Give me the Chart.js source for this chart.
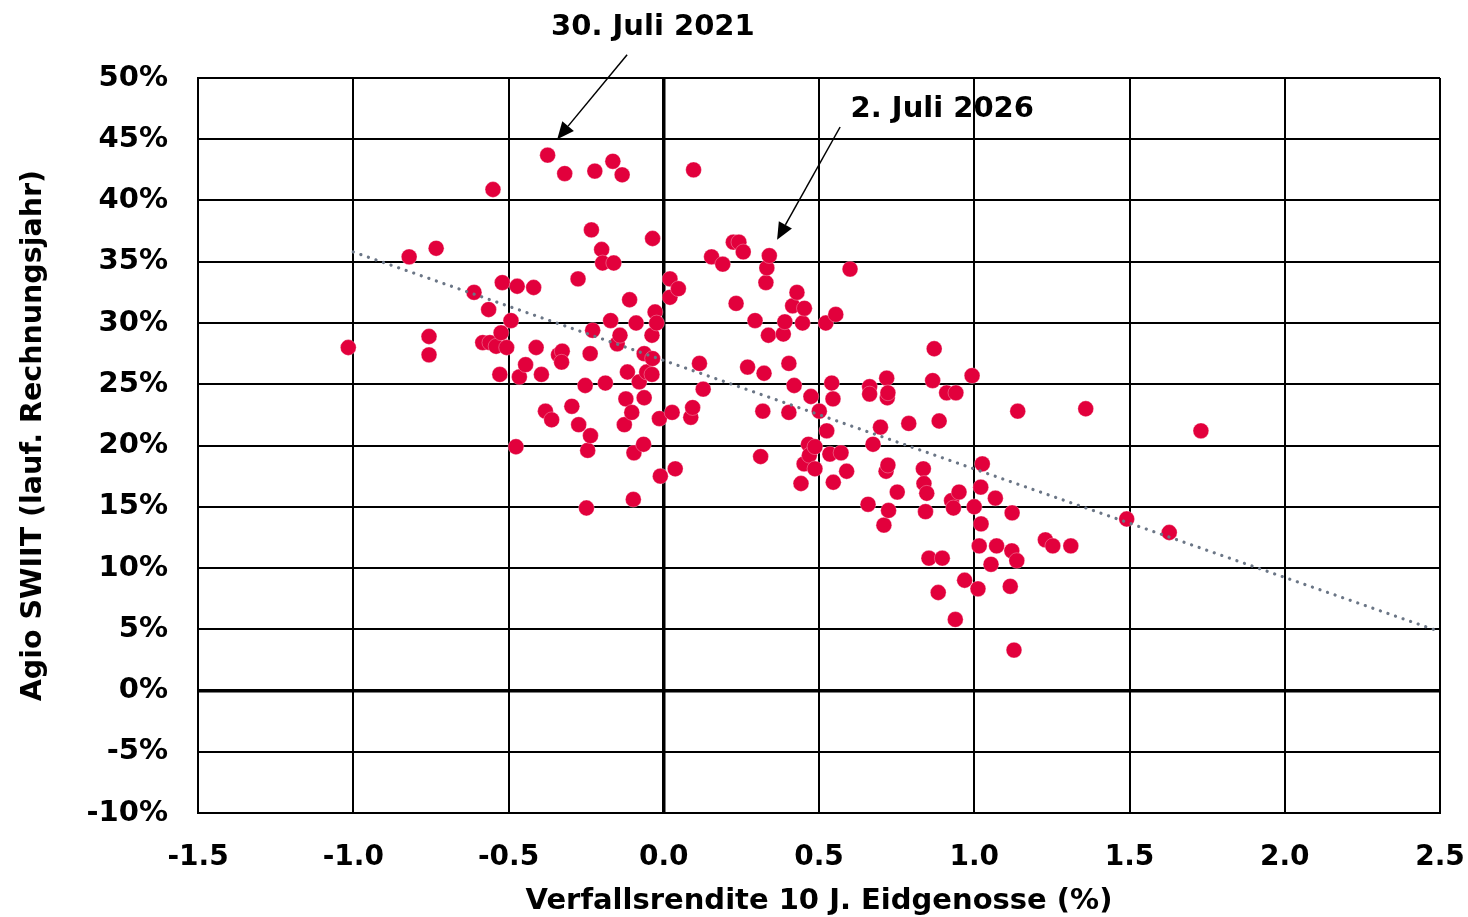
<!DOCTYPE html>
<html>
<head>
<meta charset="utf-8">
<script src="https://cdn.jsdelivr.net/npm/chart.js@4.4.1/dist/chart.umd.min.js"></script>
<style>
  body { margin: 0; background: #fff; }
  #wrap { width: 1468px; height: 917px; position: relative; }
</style>
</head>
<body>
<div id="wrap"><canvas id="agioChart"></canvas></div>
<script>
// Verfallsrendite 10 J. Eidgenosse (%)
const yields = [
    -1.016, -0.820, -0.756, -0.756, -0.733, -0.611, -0.583, -0.564, -0.550, -0.560,
    -0.540, -0.524, -0.520, -0.528, -0.506, -0.492, -0.472, -0.476, -0.465, -0.445,
    -0.419, -0.411, -0.394, -0.381, -0.374, -0.361, -0.339, -0.327, -0.329, -0.319,
    -0.296, -0.276, -0.274, -0.253, -0.249, -0.245, -0.237, -0.236, -0.233, -0.229,
    -0.222, -0.200, -0.197, -0.188, -0.171, -0.164, -0.161, -0.150, -0.141, -0.134,
    -0.127, -0.122, -0.117, -0.110, -0.103, -0.098, -0.096, -0.089, -0.079, -0.065,
    -0.063, -0.063, -0.055, -0.038, -0.038, -0.036, -0.036, -0.028, -0.023, -0.014,
    -0.011, 0.020, 0.020, 0.027, 0.047, 0.037, 0.087, 0.093, 0.096, 0.115,
    0.127, 0.154, 0.190, 0.224, 0.242, 0.233, 0.256, 0.270, 0.294, 0.312,
    0.319, 0.323, 0.329, 0.332, 0.340, 0.337, 0.385, 0.390, 0.403, 0.403,
    0.415, 0.420, 0.429, 0.442, 0.447, 0.452, 0.453, 0.466, 0.469, 0.474,
    0.487, 0.487, 0.501, 0.522, 0.525, 0.535, 0.541, 0.545, 0.546, 0.554,
    0.571, 0.589, 0.600, 0.658, 0.663, 0.663, 0.674, 0.698, 0.709, 0.716,
    0.718, 0.720, 0.722, 0.722, 0.724, 0.752, 0.789, 0.836, 0.838, 0.843,
    0.847, 0.854, 0.866, 0.871, 0.884, 0.887, 0.897, 0.911, 0.927, 0.933,
    0.939, 0.941, 0.951, 0.969, 0.993, 1.000, 1.012, 1.016, 1.021, 1.022,
    1.026, 1.054, 1.068, 1.072, 1.116, 1.121, 1.122, 1.128, 1.137, 1.140,
    1.229, 1.253, 1.311, 1.359, 1.491, 1.628, 1.730
];

// Agio SWIIT (lauf. Rechnungsjahr), in %
const agio = [
    28.0, 35.4, 28.9, 27.4, 36.1, 32.5, 28.4, 31.1, 40.9, 28.4,
    28.1, 29.2, 33.3, 25.8, 28.0, 30.2, 33.0, 19.9, 25.6, 26.6,
    32.9, 28.0, 25.8, 22.8, 43.7, 22.1, 27.4, 27.7, 26.8, 42.2,
    23.2, 33.6, 21.7, 24.9, 14.9, 19.6, 27.5, 20.8, 37.6, 29.4,
    42.4, 36.0, 34.9, 25.1, 30.2, 43.2, 34.9, 28.3, 29.0, 42.1,
    21.7, 23.8, 26.0, 31.9, 22.7, 15.6, 19.4, 30.0, 25.2, 20.1,
    27.5, 23.9, 26.0, 29.0, 25.8, 36.9, 27.1, 30.9, 30.0, 22.2,
    17.5, 33.6, 32.1, 22.7, 32.8, 18.1, 22.3, 23.1, 42.5, 26.7,
    24.6, 35.4, 34.8, 36.6, 36.6, 31.6, 35.8, 26.4, 30.2, 19.1,
    22.8, 25.9, 33.3, 34.5, 35.5, 29.0, 29.1, 30.1, 26.7, 22.7,
    31.4, 24.9, 32.5, 16.9, 30.0, 18.5, 31.2, 20.1, 19.2, 24.0,
    19.9, 18.1, 22.8, 30.0, 21.2, 19.3, 25.1, 23.8, 17.0, 30.7,
    19.4, 17.9, 34.4, 15.2, 24.8, 24.2, 20.1, 21.5, 13.5, 17.9,
    25.5, 23.9, 24.3, 18.4, 14.7, 16.2, 21.8, 18.1, 16.9, 14.6,
    16.1, 10.8, 25.3, 27.9, 8.0, 22.0, 10.8, 24.3, 15.5, 14.9,
    5.8, 24.3, 16.2, 9.0, 25.7, 15.0, 8.3, 11.8, 16.6, 13.6,
    18.5, 10.3, 15.7, 11.8, 8.5, 11.4, 14.5, 3.3, 10.6, 22.8,
    12.3, 11.8, 11.8, 23.0, 14.0, 12.9, 21.2
];

// Trendlinie (Endpunkte)
const trendX = [-1.0, 2.5];
const trendY = [35.8, 4.8];

// Beschriftungen mit Pfeil: Text, Textposition, Pfeilanfang, Pfeilspitze
const noteLabels = ['30. Juli 2021', '2. Juli 2026'];
const noteTextPos = [[-0.035, 54.1], [0.897, 47.4]];
const noteArrowFrom = [[-0.118, 51.9], [0.568, 46.0]];
const noteArrowTo = [[-0.343, 45.0], [0.365, 36.8]];

const FONT = "'DejaVu Sans', sans-serif";

const notePlugin = {
    id: 'notes',
    afterDraw(chart) {
        const { ctx, scales: { x, y } } = chart;
        ctx.save();
        noteLabels.forEach((label, i) => {
            ctx.fillStyle = '#000';
            ctx.font = "bold 29px " + FONT;
            ctx.textAlign = 'center';
            ctx.textBaseline = 'middle';
            ctx.fillText(label, x.getPixelForValue(noteTextPos[i][0]), y.getPixelForValue(noteTextPos[i][1]));

            const x0 = x.getPixelForValue(noteArrowFrom[i][0]);
            const y0 = y.getPixelForValue(noteArrowFrom[i][1]);
            const x1 = x.getPixelForValue(noteArrowTo[i][0]);
            const y1 = y.getPixelForValue(noteArrowTo[i][1]);
            const ang = Math.atan2(y1 - y0, x1 - x0);
            const headLen = 17, headW = 7.5;
            const bx = x1 - headLen * Math.cos(ang);
            const by = y1 - headLen * Math.sin(ang);
            ctx.strokeStyle = '#000';
            ctx.lineWidth = 1.5;
            ctx.beginPath();
            ctx.moveTo(x0, y0);
            ctx.lineTo(bx, by);
            ctx.stroke();
            ctx.beginPath();
            ctx.moveTo(x1, y1);
            ctx.lineTo(bx + headW * Math.sin(ang), by - headW * Math.cos(ang));
            ctx.lineTo(bx - headW * Math.sin(ang), by + headW * Math.cos(ang));
            ctx.closePath();
            ctx.fill();
        });
        ctx.restore();
    }
};

const gridWidth = (c) => (c.tick && c.tick.value === 0 ? 3.5 : 2);

new Chart(document.getElementById('agioChart'), {
    type: 'scatter',
    data: {
        datasets: [
            {
                label: 'Agio',
                data: yields.map((v, i) => ({ x: v, y: agio[i] })),
                backgroundColor: '#e2003c',
                borderColor: 'rgba(255,255,255,0.5)',
                borderWidth: 0.6,
                pointRadius: 7.9,
                pointHoverRadius: 7.9,
                order: 2
            },
            {
                label: 'Trend',
                type: 'line',
                data: trendX.map((v, i) => ({ x: v, y: trendY[i] })),
                borderColor: '#6b7686',
                borderWidth: 3.2,
                borderDash: [0.1, 7.9],
                borderCapStyle: 'round',
                pointRadius: 0,
                fill: false,
                order: 1
            }
        ]
    },
    options: {
        responsive: true,
        maintainAspectRatio: false,
        animation: false,
        layout: { padding: { top: 78, right: 0, left: 0, bottom: 0 } },
        plugins: {
            legend: { display: false },
            tooltip: { enabled: false }
        },
        scales: {
            x: {
                type: 'linear',
                min: -1.5,
                max: 2.5,
                afterFit: (scale) => {
                    scale.height = 104;
                    scale.paddingRight = 28;
                    scale.paddingLeft = 0;
                },
                ticks: {
                    stepSize: 0.5,
                    color: '#000',
                    padding: 28,
                    font: { family: FONT, size: 28, weight: 'bold' },
                    callback: (v) => v.toFixed(1)
                },
                grid: { color: '#000', lineWidth: gridWidth, drawTicks: false },
                border: { display: true, color: '#000', width: 2 },
                title: {
                    display: true,
                    text: 'Verfallsrendite 10 J. Eidgenosse (%)',
                    color: '#000',
                    font: { family: FONT, size: 29, weight: 'bold', lineHeight: 1.2 },
                    padding: { top: 0, bottom: -2 }
                }
            },
            y: {
                type: 'linear',
                min: -10,
                max: 50,
                afterFit: (scale) => { scale.width = 198; },
                ticks: {
                    stepSize: 5,
                    color: '#000',
                    padding: 30,
                    font: { family: FONT, size: 29, weight: 'bold' },
                    callback: (v) => v + '%'
                },
                grid: { color: '#000', lineWidth: gridWidth, drawTicks: false },
                border: { display: true, color: '#000', width: 2 },
                title: {
                    display: true,
                    // leading spaces nudge the rotated title a bit upward, as in the original
                    text: '\u00a0\u00a0Agio SWIIT (lauf. Rechnungsjahr)',
                    color: '#000',
                    font: { family: FONT, size: 28.5, weight: 'bold', lineHeight: 1.2 },
                    padding: { top: 16, bottom: 0 }
                }
            }
        }
    },
    plugins: [notePlugin]
});
</script>
</body>
</html>
